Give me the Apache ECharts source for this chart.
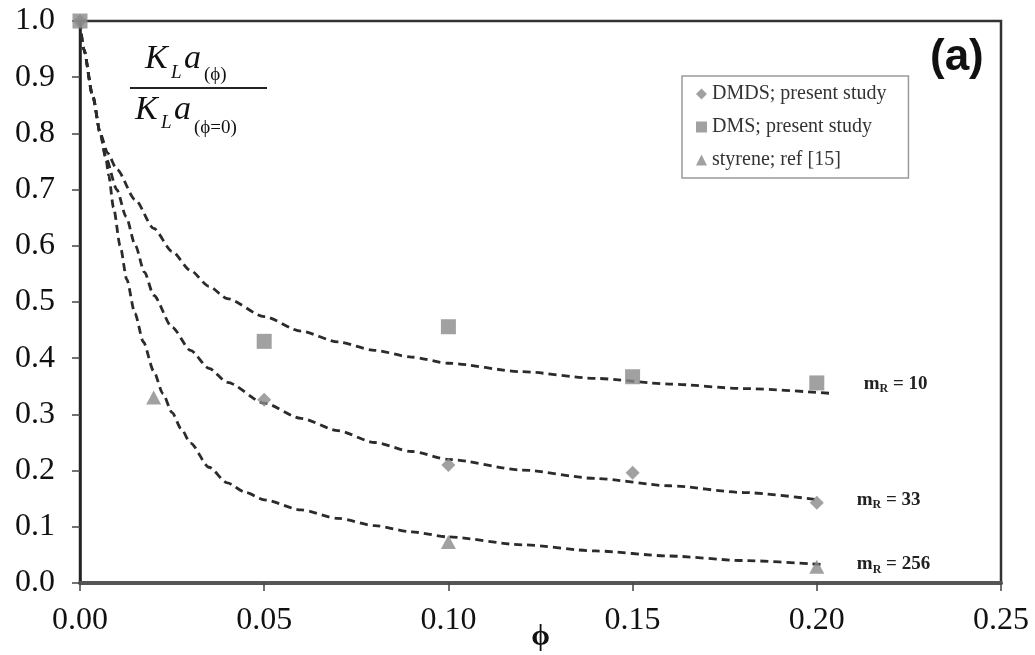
<!DOCTYPE html>
<html>
<head>
<meta charset="utf-8">
<title>KLa ratio vs phi</title>
<script src="https://cdn.jsdelivr.net/npm/echarts@6/dist/echarts.min.js"></script>
<style>
  html, body { margin: 0; padding: 0; background: #fff; }
  #chart { width: 1035px; height: 655px; }
</style>
</head>
<body>
<div id="chart"></div>
<script>
// measured points
var phiDMDS = [0, 0.05, 0.10, 0.15, 0.20];
var kDMDS = [1.0, 0.326, 0.21, 0.196, 0.143];
var phiDMS = [0, 0.05, 0.10, 0.15, 0.20];
var kDMS = [1.0, 0.43, 0.456, 0.367, 0.356];
var phiSty = [0.02, 0.10, 0.20];
var kSty = [0.330, 0.073, 0.029];

// dashed fit curves
var phiFit10 = [0, 0.001, 0.0035, 0.0055, 0.0075, 0.010, 0.015, 0.020, 0.025, 0.030, 0.035, 0.040, 0.050, 0.060, 0.070, 0.080, 0.090, 0.100, 0.120, 0.140, 0.160, 0.180, 0.2046];
var kFit10 = [1.0, 0.950, 0.865, 0.800, 0.765, 0.736, 0.682, 0.631, 0.590, 0.556, 0.528, 0.506, 0.474, 0.448, 0.429, 0.414, 0.402, 0.391, 0.376, 0.364, 0.354, 0.346, 0.337];
var phiFit33 = [0, 0.001, 0.0035, 0.0055, 0.0070, 0.010, 0.0125, 0.015, 0.0175, 0.020, 0.025, 0.030, 0.035, 0.040, 0.050, 0.060, 0.070, 0.080, 0.090, 0.100, 0.120, 0.140, 0.160, 0.180, 0.2005];
var kFit33 = [1.0, 0.950, 0.865, 0.800, 0.757, 0.700, 0.652, 0.601, 0.553, 0.512, 0.455, 0.414, 0.382, 0.357, 0.320, 0.293, 0.271, 0.250, 0.234, 0.220, 0.201, 0.186, 0.173, 0.161, 0.148];
var phiFit256 = [0, 0.001, 0.0035, 0.0055, 0.0070, 0.0078, 0.0091, 0.0109, 0.0127, 0.0149, 0.0172, 0.020, 0.0225, 0.025, 0.0275, 0.030, 0.035, 0.040, 0.045, 0.050, 0.060, 0.070, 0.080, 0.090, 0.100, 0.120, 0.140, 0.160, 0.180, 0.2011];
var kFit256 = [1.0, 0.950, 0.865, 0.800, 0.757, 0.725, 0.668, 0.600, 0.540, 0.480, 0.429, 0.377, 0.337, 0.303, 0.274, 0.249, 0.206, 0.178, 0.161, 0.148, 0.130, 0.115, 0.102, 0.091, 0.082, 0.068, 0.057, 0.048, 0.040, 0.033];

var xTicks = [0, 0.05, 0.10, 0.15, 0.20, 0.25];
var yTicks = [0, 0.1, 0.2, 0.3, 0.4, 0.5, 0.6, 0.7, 0.8, 0.9, 1.0];

var fitNames = ['mR = 10', 'mR = 33', 'mR = 256'];
var fitLabels = ['10', '33', '256'];

function pairs(xs, ys) {
  return xs.map(function (x, i) { return [x, ys[i]]; });
}

var serif = 'Liberation Serif';
var markerGrey = '#8a8a8a';

function fitSeries(idx, xs, ys, dist, off) {
  return {
    name: fitNames[idx],
    type: 'line',
    data: pairs(xs, ys),
    showSymbol: false,
    smooth: 0.25,
    smoothMonotone: 'x',
    z: 2,
    lineStyle: { color: '#2b2b2b', width: 2.8, type: [8, 5] },
    endLabel: {
      show: true,
      distance: dist,
      offset: off,
      formatter: '{m|m}{r|R}{v| = ' + fitLabels[idx] + '}',
      rich: {
        m: { fontFamily: serif, fontWeight: 'bold', fontSize: 19, color: '#222' },
        r: { fontFamily: serif, fontWeight: 'bold', fontSize: 12, color: '#222', padding: [10, 0, 0, 0] },
        v: { fontFamily: serif, fontWeight: 'bold', fontSize: 19, color: '#222' }
      }
    }
  };
}

var chart = echarts.init(document.getElementById('chart'));

var option = {
  animation: false,
  backgroundColor: '#fff',
  grid: {
    left: 80, right: 34, top: 21, bottom: 72,
    outerBoundsMode: 'none',
    show: true,
    borderColor: '#333',
    borderWidth: 2.5
  },
  legend: {
    data: ['DMDS; present study', 'DMS; present study', 'styrene; ref [15]'],
    orient: 'vertical',
    left: 682,
    top: 76,
    padding: [8, 22, 8, 14],
    itemGap: 13,
    itemWidth: 11,
    itemHeight: 11,
    backgroundColor: '#fff',
    borderColor: '#9a9a9a',
    borderWidth: 1.5,
    textStyle: { fontFamily: serif, fontSize: 20, color: '#333' }
  },
  xAxis: {
    type: 'value',
    min: 0,
    max: 0.25,
    interval: 0.05,
    name: 'ϕ',
    nameLocation: 'middle',
    nameGap: 39,
    nameMoveOverlap: false,
    nameTextStyle: { fontFamily: serif, fontWeight: 'bold', fontSize: 30, color: '#111' },
    axisLine: { show: true, onZero: false, lineStyle: { color: '#555', width: 4 } },
    axisTick: { show: true, length: 8, lineStyle: { color: '#444', width: 1.5 } },
    splitLine: { show: false },
    axisLabel: {
      margin: 22,
      fontFamily: serif,
      fontSize: 32,
      color: '#111',
      formatter: function (v) { return v.toFixed(2); }
    }
  },
  yAxis: {
    type: 'value',
    min: 0,
    max: 1,
    interval: 0.1,
    axisLine: { show: true, onZero: false, lineStyle: { color: '#222', width: 2.5 } },
    axisTick: { show: true, length: 8, lineStyle: { color: '#444', width: 1.5 } },
    splitLine: { show: false },
    axisLabel: {
      margin: 25,
      fontFamily: serif,
      fontSize: 32,
      color: '#111',
      formatter: function (v) { return v.toFixed(1); }
    }
  },
  graphic: [
    // ratio label, numerator
    { type: 'text', left: 145, top: 42, style: { text: 'K', font: 'italic 34px "Liberation Serif"', fill: '#111' } },
    { type: 'text', left: 171, top: 63, style: { text: 'L', font: 'italic 19px "Liberation Serif"', fill: '#111' } },
    { type: 'text', left: 184, top: 42, style: { text: 'a', font: 'italic 34px "Liberation Serif"', fill: '#111' } },
    { type: 'text', left: 204, top: 66, style: { text: '(ϕ)', font: '19px "Liberation Serif"', fill: '#111' } },
    { type: 'line', shape: { x1: 130, y1: 88, x2: 267, y2: 88 }, style: { stroke: '#222', lineWidth: 2 } },
    // denominator
    { type: 'text', left: 135, top: 93, style: { text: 'K', font: 'italic 34px "Liberation Serif"', fill: '#111' } },
    { type: 'text', left: 161, top: 113, style: { text: 'L', font: 'italic 19px "Liberation Serif"', fill: '#111' } },
    { type: 'text', left: 174, top: 93, style: { text: 'a', font: 'italic 34px "Liberation Serif"', fill: '#111' } },
    { type: 'text', left: 194, top: 119, style: { text: '(ϕ=0)', font: '19px "Liberation Serif"', fill: '#111' } },
    // panel tag
    { type: 'text', left: 930, top: 36, style: { text: '(a)', font: 'bold 44px "Liberation Sans"', fill: '#111' } }
  ],
  series: [
    fitSeries(0, phiFit10, kFit10, 30, [0, -10]),
    fitSeries(1, phiFit33, kFit33, 38, [0, 0]),
    fitSeries(2, phiFit256, kFit256, 36, [0, 0]),
    {
      name: 'DMDS; present study',
      type: 'scatter',
      symbol: 'diamond',
      symbolSize: 14,
      z: 3,
      itemStyle: { color: markerGrey },
      data: pairs(phiDMDS, kDMDS)
    },
    {
      name: 'DMS; present study',
      type: 'scatter',
      symbol: 'rect',
      symbolSize: 15,
      z: 4,
      itemStyle: { color: markerGrey },
      data: pairs(phiDMS, kDMS)
    },
    {
      name: 'styrene; ref [15]',
      type: 'scatter',
      symbol: 'triangle',
      symbolSize: [15, 14],
      z: 3,
      itemStyle: { color: markerGrey },
      data: pairs(phiSty, kSty)
    }
  ]
};

chart.setOption(option);
</script>
</body>
</html>
